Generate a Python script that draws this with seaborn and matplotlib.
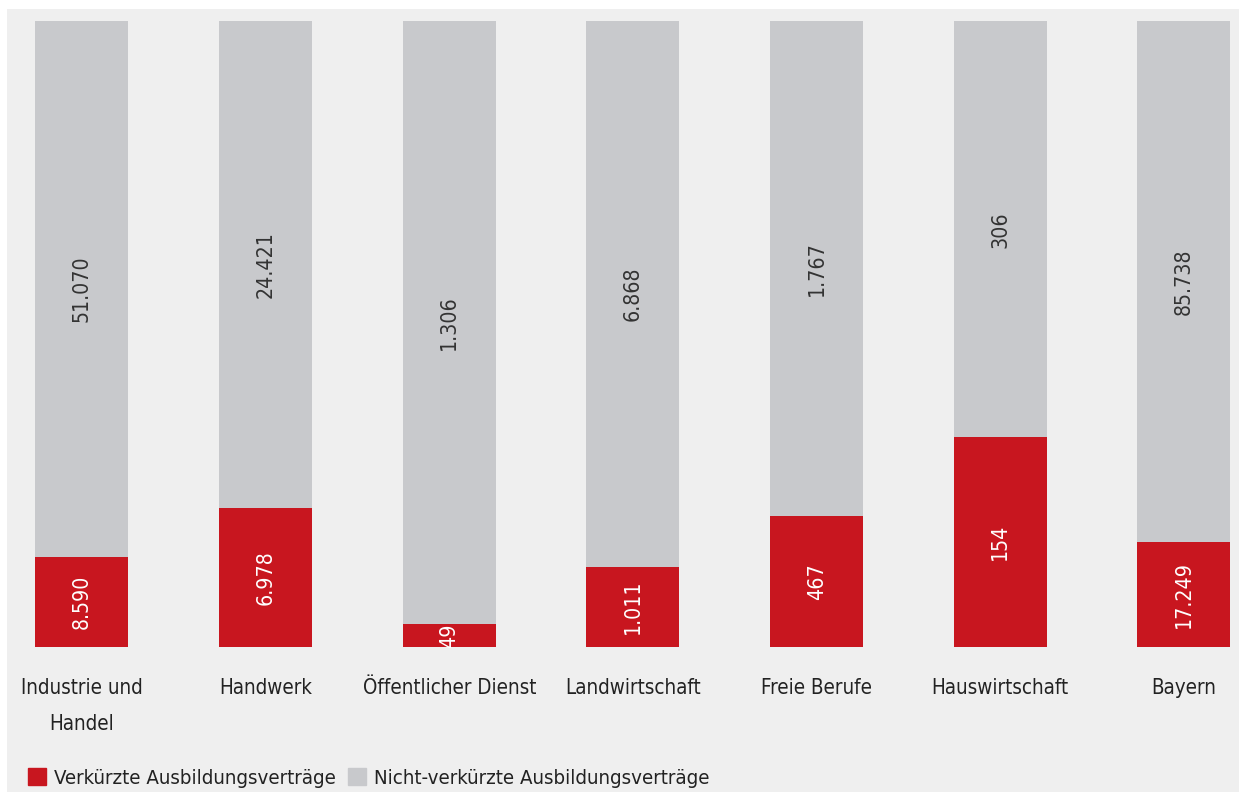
import pandas as pd
import matplotlib.pyplot as plt
import seaborn as sns
from matplotlib.patches import Patch, Rectangle

# Ausbildungsverträge nach Zuständigkeitsbereich
categories = ['Industrie und\nHandel', 'Handwerk', 'Öffentlicher Dienst',
              'Landwirtschaft', 'Freie Berufe', 'Hauswirtschaft', 'Bayern']
verkuerzt = [8590, 6978, 49, 1011, 467, 154, 17249]
nicht_verkuerzt = [51070, 24421, 1306, 6868, 1767, 306, 85738]

RED = '#c8161f'
GREY = '#c8c9cc'
BG = '#efefef'


def fmt(v):
    # deutsche Tausendertrennung
    return f'{v:,}'.replace(',', '.')


df = pd.DataFrame({'kat': categories, 'v': verkuerzt, 'n': nicht_verkuerzt})
df['total'] = df['v'] + df['n']
df['share_v'] = df['v'] / df['total']
df['share_all'] = df['total'] / df['total']

sns.set_style('white')
plt.rcParams['font.family'] = ['DejaVu Sans']
plt.rcParams['font.stretch'] = 'condensed'

fig = plt.figure(figsize=(12.39, 7.92), dpi=100)
fig.patches.append(Rectangle((7 / 1239, 0), 1, 783 / 792, transform=fig.transFigure,
                             facecolor=BG, edgecolor='none', zorder=-5))
ax = fig.add_axes([7 / 1239, 145 / 792, 1232 / 1239, 626 / 792])
ax.set_facecolor('none')

w = 0.506
sns.barplot(data=df, x='kat', y='share_all', color=GREY, width=w, saturation=1,
            linewidth=0, ax=ax)
sns.barplot(data=df, x='kat', y='share_v', color=RED, width=w, saturation=1,
            linewidth=0, ax=ax)

for i, row in df.iterrows():
    ax.text(i, row['share_v'] / 2, fmt(row['v']), rotation=90, ha='center', va='center',
            color='white', fontsize=15.3)
    ax.text(i, row['share_v'] + (1 - row['share_v']) / 2, fmt(row['n']), rotation=90,
            ha='center', va='center', color='#333333', fontsize=15.3)

ax.set_xlim(-0.408, 6.30)
ax.set_ylim(0, 1)
ax.set_xlabel('')
ax.set_ylabel('')
ax.set_yticks([])
ax.tick_params(axis='x', length=0, pad=22, labelsize=14.8, colors='#222222')
for lbl in ax.get_xticklabels():
    lbl.set_linespacing(2.0)
sns.despine(ax=ax, left=True, bottom=True)

handles = [Patch(color=RED, label='Verkürzte Ausbildungsverträge'),
           Patch(color=GREY, label='Nicht-verkürzte Ausbildungsverträge')]
fig.legend(handles=handles, loc='center left', bbox_to_anchor=(28 / 1239, 14 / 792), ncol=2,
           frameon=False, fontsize=14.7, handlelength=0.88, handleheight=0.85,
           handletextpad=0.39, columnspacing=0.59, borderpad=0, borderaxespad=0,
           labelcolor='#222222')

plt.savefig('out.png', dpi=100, facecolor='white')
